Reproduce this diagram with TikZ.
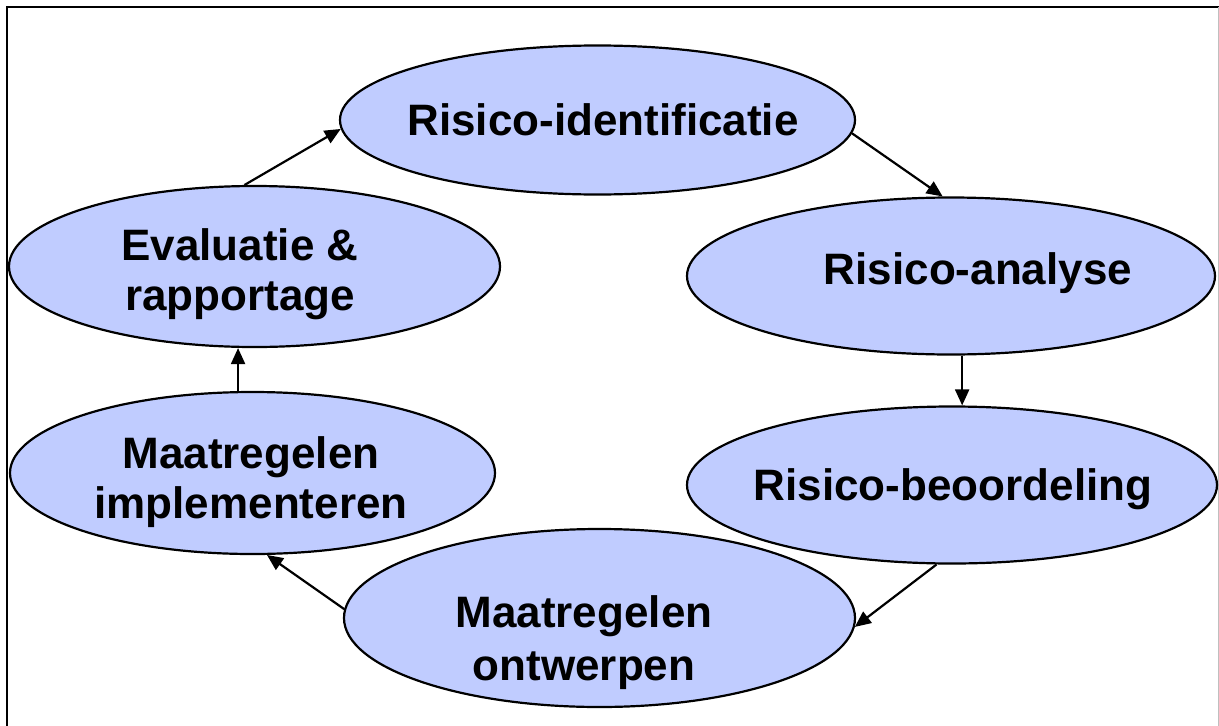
\documentclass[tikz,border=0pt]{standalone}
\usepackage{fontspec}
\setmainfont{Liberation Sans}
\usetikzlibrary{shapes.geometric,arrows.meta}
\definecolor{ellfill}{RGB}{192,204,255}
\begin{document}
\begin{tikzpicture}[x=1pt,y=-1pt,
  stage/.style={ellipse, draw=black, line width=2.2pt, fill=ellfill, inner sep=0pt},
  lbl/.style={anchor=base, inner sep=0pt, font=\fontsize{44}{50}\selectfont\bfseries},
  flow/.style={line width=2.2pt, -{Triangle[length=16pt,width=14pt]}}]
\useasboundingbox (0,0) rectangle (1219,726);
\draw[line width=2pt] (7,726) -- (7,7) -- (1219,7);
\draw[line width=1pt, black!25] (1218,7) -- (1218,726);

\node[stage, minimum width=515pt, minimum height=149pt] (ide) at (597.5,120) {};
\node[stage, minimum width=528pt, minimum height=157pt] (ana) at (951,276) {};
\node[stage, minimum width=530pt, minimum height=157pt] (beo) at (952,485) {};
\node[stage, minimum width=511pt, minimum height=178pt] (ont) at (599.5,618) {};
\node[stage, minimum width=485pt, minimum height=162pt] (imp) at (252.5,473) {};
\node[stage, minimum width=491pt, minimum height=161pt] (evl) at (254.5,266.5) {};

\node[lbl] (t-ide) at (603,135) {Risico-identificatie};
\node[lbl] (t-ana) at (978,284) {Risico-analyse};
\node[lbl] (t-beo) at (953,500) {Risico-beoordeling};
\node[lbl] (t-ont1) at (584,627) {Maatregelen};
\node[lbl] (t-ont2) at (584,680) {ontwerpen};
\node[lbl] (t-imp1) at (251,468) {Maatregelen};
\node[lbl] (t-imp2) at (251,518) {implementeren};
\node[lbl] (t-evl1) at (240,260) {Evaluatie \&};
\node[lbl] (t-evl2) at (240,310) {rapportage};

\draw[flow] (evl.97.7) -- (ide.182.7);
\draw[flow] (ide.357.8) -- (ana.96.5);
\draw[flow] (ana.278) -- (ana.278 |- beo.north);
\draw[flow] (beo.259) -- (ont.358.4);
\draw[flow] (ont.178.4) -- (imp.280.7);
\draw[flow] (imp.100) -- (imp.100 |- evl.south);
\end{tikzpicture}
\end{document}
